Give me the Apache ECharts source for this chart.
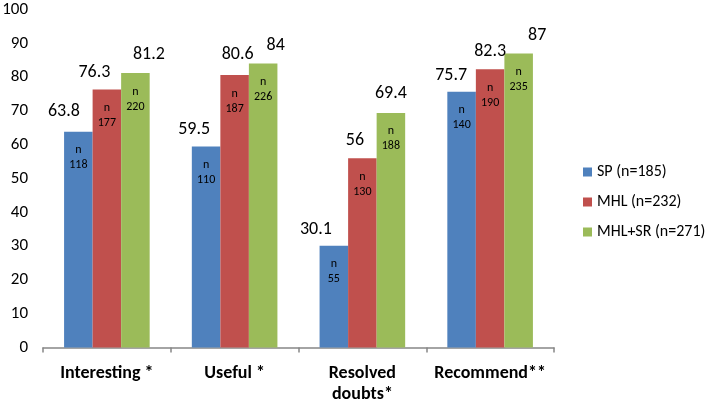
<!DOCTYPE html>
<html><head><meta charset="utf-8">
<script src="https://cdn.jsdelivr.net/npm/echarts@6/dist/echarts.min.js"></script>
<style>html,body{margin:0;padding:0;background:#fff}#c{width:708px;height:400px}</style>
</head><body><div id="c"></div>
<script>
var categories = ['Interesting *', 'Useful *', 'Resolved\ndoubts*', 'Recommend**'];
var seriesNames = ['SP (n=185)', 'MHL (n=232)', 'MHL+SR (n=271)'];
var spValues = [63.8, 59.5, 30.1, 75.7];
var mhlValues = [76.3, 80.6, 56, 82.3];
var mhlsrValues = [81.2, 84, 69.4, 87];
var spCounts = [118, 110, 55, 140];
var mhlCounts = [177, 187, 130, 190];
var mhlsrCounts = [220, 226, 188, 235];
var yTicks = [0, 100, 10];

// label placement (style only): horizontal shift and height above bar top, in px
var labelShiftX = [[-14.5, -12, -18, -10.5], [-12.5, 3, -7.5, 0], [13.5, 12.5, 0, 18.5]];
var labelAbove = [[20, 17, 16, 16], [17, 21, 18, 18], [18.5, 18, 19, 18]];

var colors = ['#4F81BD', '#C0504D', '#9BBB59'];
var values = [spValues, mhlValues, mhlsrValues];
var counts = [spCounts, mhlCounts, mhlsrCounts];
var FONT = 'Carlito, Lato, "Liberation Sans", sans-serif';
var VAL_FS = 18;

var series = [];
values.forEach(function (vals, i) {
  series.push({
    name: seriesNames[i], type: 'bar', xAxisIndex: 0,
    barGap: '0%', barCategoryGap: '33%',
    itemStyle: { color: colors[i] },
    data: vals.map(function (v, j) { return { value: v, n: counts[i][j] }; }),
    label: {
      show: true, position: 'insideTop', distance: 11,
      fontFamily: FONT, fontSize: 12, color: '#000', lineHeight: 15,
      formatter: function (p) { return 'n\n' + p.data.n; }
    },
    emphasis: { disabled: true }, animation: false
  });
});
values.forEach(function (vals, i) {
  series.push({
    name: '_v' + i, type: 'bar', xAxisIndex: 1,
    barGap: '0%', barCategoryGap: '33%',
    itemStyle: { color: 'rgba(0,0,0,0)' },
    data: vals.map(function (v, j) {
      var dx = labelShiftX[i][j];
      var pad = dx < 0 ? [0, -2 * dx, 0, 0] : [0, 0, 0, 2 * dx];
      return {
        value: v,
        label: { distance: labelAbove[i][j] - VAL_FS / 2, padding: pad }
      };
    }),
    label: {
      show: true, position: 'top',
      fontFamily: FONT, fontSize: VAL_FS, lineHeight: VAL_FS, color: '#000'
    },
    emphasis: { disabled: true }, animation: false, silent: true
  });
});

var chart = echarts.init(document.getElementById('c'), null, { renderer: 'canvas' });
chart.setOption({
  animation: false,
  grid: { left: 43, right: 154, top: 9.5, bottom: 52.5, containLabel: false, outerBoundsMode: 'none' },
  legend: {
    data: seriesNames, orient: 'vertical', left: 578, top: 159,
    itemWidth: 9, itemHeight: 9, itemGap: 14, icon: 'rect',
    textStyle: { fontFamily: FONT, fontSize: 16, color: '#000' },
    selectedMode: false
  },
  xAxis: [{
    type: 'category', data: categories,
    axisLine: { lineStyle: { color: '#868686', width: 1.5 } },
    axisTick: { show: true, length: 5, lineStyle: { color: '#868686', width: 1.5 } },
    axisLabel: { fontFamily: FONT, fontSize: 18, fontWeight: 'bold', color: '#000', margin: 15, lineHeight: 21, interval: 0 }
  }, {
    type: 'category', data: categories, show: false
  }],
  yAxis: {
    type: 'value', min: yTicks[0], max: yTicks[1], interval: yTicks[2],
    axisLine: { show: false }, axisTick: { show: false }, splitLine: { show: false },
    axisLabel: { fontFamily: FONT, fontSize: 17, color: '#000', margin: 15 }
  },
  series: series
});
</script></body></html>
